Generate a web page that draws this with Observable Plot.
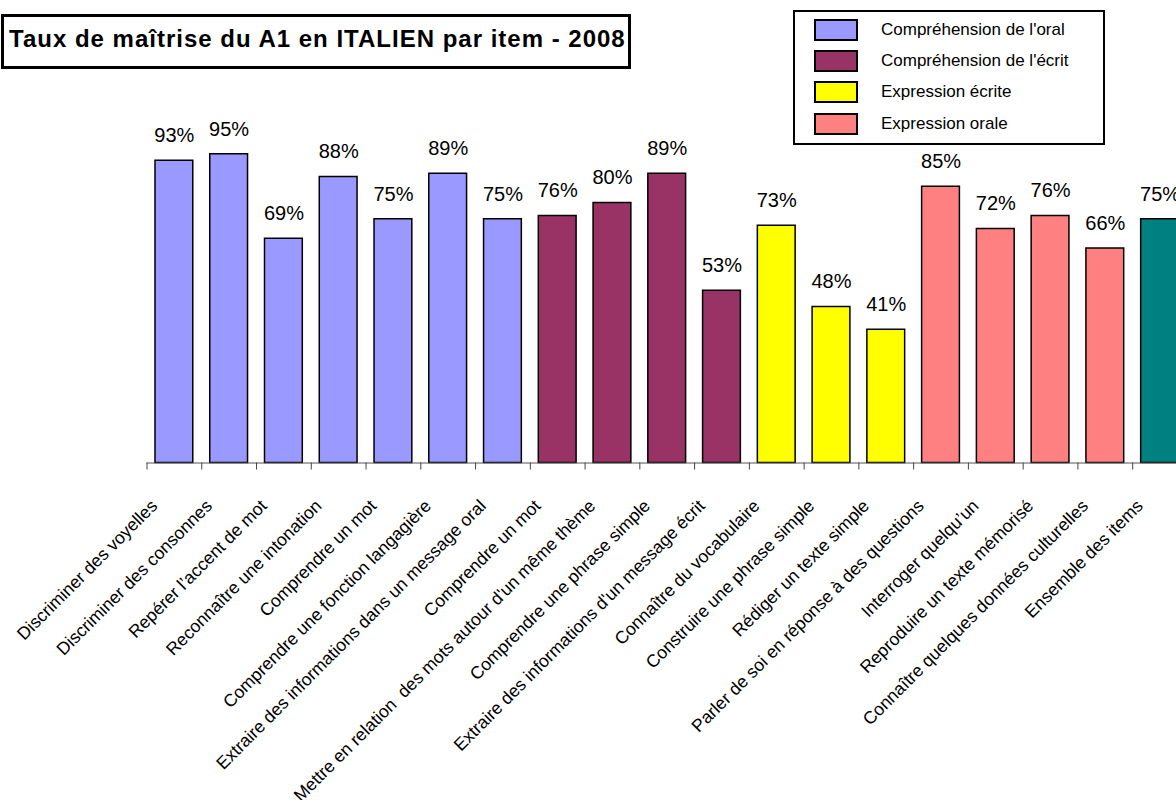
<!DOCTYPE html>
<html>
<head>
<meta charset="utf-8">
<script src="https://cdn.jsdelivr.net/npm/d3@7"></script>
<script src="https://cdn.jsdelivr.net/npm/@observablehq/plot@0.6"></script>
<style>
html, body { margin: 0; padding: 0; background: #fff; overflow: hidden; }
#wrap { position: relative; width: 1176px; height: 800px; font-family: "Liberation Sans", Arial, sans-serif; color: #000; }
#chart { position: absolute; left: 0; top: 0; }
#title { position: absolute; left: 1px; top: 14px; width: 619px; height: 49px; padding-left: 5px; border: 3px solid #000; background: #fff;
  font-weight: bold; font-size: 24px; letter-spacing: 1px; line-height: 43px; white-space: nowrap; }
#legend { position: absolute; left: 793px; top: 9.5px; width: 308px; height: 131px; border: 2px solid #000; background: #fff; }
.row { position: absolute; left: 19px; height: 22px; display: flex; align-items: center; }
.sw { width: 40px; height: 18px; border: 2px solid #000; }
.lab { margin-left: 23px; font-size: 17px; white-space: nowrap; }
svg text { white-space: pre; }
</style>
</head>
<body>
<div id="wrap">
  <div id="chart"></div>
  <div id="title"></div>
  <div id="legend"></div>
</div>
<script>
const titleText = "Taux de maîtrise du A1 en ITALIEN par item - 2008";

const categories = [
  "Discriminer des voyelles",
  "Discriminer des consonnes",
  "Repérer l’accent de mot",
  "Reconnaître une intonation",
  "Comprendre un mot",
  "Comprendre une fonction langagière",
  "Extraire des informations dans un message oral",
  "Comprendre un mot",
  "Mettre en relation  des mots autour d'un même thème",
  "Comprendre une phrase simple",
  "Extraire des informations d'un message écrit",
  "Connaître du vocabulaire",
  "Construire une phrase simple",
  "Rédiger un texte simple",
  "Parler de soi en réponse à des questions",
  "Interroger quelqu’un",
  "Reproduire un texte mémorisé",
  "Connaître quelques données culturelles",
  "Ensemble des items"
];

const values = [93, 95, 69, 88, 75, 89, 75, 76, 80, 89, 53, 73, 48, 41, 85, 72, 76, 66, 75];

const groups = [
  "Compréhension de l'oral", "Compréhension de l'oral", "Compréhension de l'oral", "Compréhension de l'oral",
  "Compréhension de l'oral", "Compréhension de l'oral", "Compréhension de l'oral",
  "Compréhension de l'écrit", "Compréhension de l'écrit", "Compréhension de l'écrit", "Compréhension de l'écrit",
  "Expression écrite", "Expression écrite", "Expression écrite",
  "Expression orale", "Expression orale", "Expression orale", "Expression orale",
  "Ensemble"
];

const legendGroups = ["Compréhension de l'oral", "Compréhension de l'écrit", "Expression écrite", "Expression orale"];
const groupDomain = [...legendGroups, "Ensemble"];
const groupColors = ["#9999FF", "#993366", "#FFFF00", "#FF8080", "#008080"];

const data = categories.map((label, i) => ({idx: i, label, value: values[i], group: groups[i]}));

const n = categories.length;
const x0 = 146.5;
const step = 54.76;

const chart = Plot.plot({
  width: 1176,
  height: 800,
  marginLeft: 146.5,
  marginRight: 0,
  marginTop: 137.5,
  marginBottom: 337.5,
  style: {fontFamily: "'Liberation Sans', Arial, sans-serif", background: "#fff", color: "#000", overflow: "hidden"},
  x: {type: "band", domain: d3.range(n), range: [x0, x0 + n * step], round: false, paddingInner: 0.31, paddingOuter: 0.155, label: null},
  y: {domain: [0, 100], axis: null},
  color: {domain: groupDomain, range: groupColors},
  marks: [
    Plot.barY(data, {x: "idx", y: "value", fill: "group", stroke: "#000", strokeWidth: 1.5}),
    Plot.ruleY([0], {stroke: "#555", strokeWidth: 1}),
    Plot.axisX({label: null, tickSize: 7, tickFormat: () => "", dx: -step / 2, stroke: "#444"}),
    Plot.text(data, {x: "idx", y: "value", text: d => d.value + "%", dy: -25, fontSize: 20, lineAnchor: "middle", fill: "#000"}),
    Plot.text(data, {x: "idx", frameAnchor: "bottom", text: "label", rotate: -45, textAnchor: "end", lineAnchor: "middle",
      dx: -20, dy: 40, fontSize: 17.6, fill: "#000"})
  ]
});
document.getElementById("chart").appendChild(chart);

document.getElementById("title").textContent = titleText;

const legend = document.getElementById("legend");
const rowTops = [7, 38, 69.5, 101];
legendGroups.forEach((g, i) => {
  const row = document.createElement("div");
  row.className = "row";
  row.style.top = rowTops[i] + "px";
  const sw = document.createElement("div");
  sw.className = "sw";
  sw.style.background = groupColors[i];
  const lab = document.createElement("div");
  lab.className = "lab";
  lab.textContent = g;
  row.appendChild(sw);
  row.appendChild(lab);
  legend.appendChild(row);
});
</script>
</body>
</html>
